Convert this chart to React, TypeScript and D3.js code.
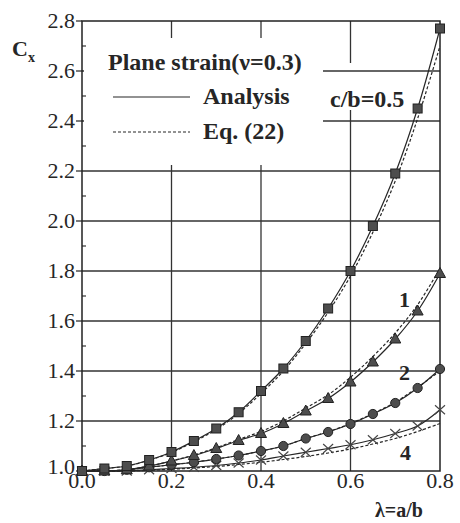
import React from 'react';
import { scaleLinear, line, curveCatmullRom, range } from 'd3';

// lambda = a/b
const lambdas = [0, 0.05, 0.1, 0.15, 0.2, 0.25, 0.3, 0.35, 0.4, 0.45, 0.5, 0.55, 0.6, 0.65, 0.7, 0.75, 0.8];

// analysis (solid) and Eq. (22) (dashed) for each c/b
const cb05 = [1.0, 1.01, 1.02, 1.044, 1.076, 1.12, 1.17, 1.235, 1.32, 1.41, 1.52, 1.65, 1.8, 1.98, 2.19, 2.45, 2.77];
const cb05Eq = [1.0, 1.01, 1.02, 1.043, 1.074, 1.117, 1.166, 1.23, 1.31, 1.4, 1.51, 1.635, 1.78, 1.955, 2.16, 2.41, 2.7];
const cb1 = [1.0, 1.0, 1.005, 1.02, 1.04, 1.062, 1.09, 1.122, 1.15, 1.19, 1.24, 1.29, 1.356, 1.436, 1.528, 1.64, 1.79];
const cb1Eq = [1.0, 1.0, 1.005, 1.02, 1.04, 1.064, 1.093, 1.126, 1.158, 1.2, 1.252, 1.305, 1.375, 1.458, 1.552, 1.665, 1.81];
const cb2 = [1.0, 1.0, 1.005, 1.015, 1.025, 1.035, 1.048, 1.062, 1.08, 1.1, 1.13, 1.156, 1.188, 1.228, 1.272, 1.332, 1.408];
const cb2Eq = [1.0, 1.0, 1.005, 1.015, 1.025, 1.035, 1.048, 1.062, 1.08, 1.1, 1.13, 1.157, 1.19, 1.23, 1.275, 1.335, 1.4];
const cb4 = [1.0, 1.0, 1.0, 1.005, 1.01, 1.015, 1.022, 1.032, 1.044, 1.06, 1.075, 1.09, 1.105, 1.125, 1.15, 1.18, 1.245];
const cb4Eq = [1.0, 1.0, 1.0, 1.003, 1.007, 1.012, 1.018, 1.026, 1.035, 1.046, 1.058, 1.072, 1.088, 1.108, 1.13, 1.158, 1.19];

const xTicks = [0, 0.2, 0.4, 0.6, 0.8];
const yTicks = [1.0, 1.2, 1.4, 1.6, 1.8, 2.0, 2.2, 2.4, 2.6, 2.8];

const serif = 'Liberation Serif, Tinos, DejaVu Serif, serif';
const ink = '#262626';

const txt = (size: number, bold = false): React.CSSProperties => ({
  fontFamily: serif,
  fontSize: size,
  fontWeight: bold ? 'bold' : 'normal',
  fill: ink,
});

export default function App() {
  const x = scaleLinear().domain([0, 0.8]).range([82, 440]);
  const y = scaleLinear().domain([1.0, 2.8]).range([471, 21]);

  const path = (vals: number[]) =>
    line<number>()
      .x((d, i) => x(lambdas[i]))
      .y(d => y(d))
      .curve(curveCatmullRom)(vals) || '';

  const minor = range(1.1, 2.8, 0.2);

  return (
    <div style={{ position: 'absolute', left: 0, top: 0 }}>
      <svg width={460} height={523} style={{ display: 'block', background: '#fff' }}>
        {/* vertical grid */}
        {xTicks.slice(1, 4).map(t => (
          <line key={'vx' + t} x1={x(t)} x2={x(t)} y1={y(2.8)} y2={y(1.0)} stroke="#333" strokeWidth={1.3} />
        ))}
        {/* break in the 0.6 line behind c/b label */}
        <rect x={x(0.6) - 4} y={63} width={8} height={47} fill="#fff" />
        {/* horizontal grid */}
        {yTicks.slice(1, 9).map(t => (
          <line key={'hy' + t} x1={x(0)} x2={x(0.8)} y1={y(t)} y2={y(t)} stroke="#333" strokeWidth={1.3} />
        ))}
        {/* legend backdrop */}
        <rect x={84} y={38} width={239} height={127} fill="#fff" />

        {/* frame */}
        <rect x={x(0)} y={y(2.8)} width={x(0.8) - x(0)} height={y(1.0) - y(2.8)} fill="none" stroke="#222" strokeWidth={1.5} />

        {/* y ticks */}
        {yTicks.map(t => (
          <g key={'yt' + t}>
            <line x1={x(0) - 6} x2={x(0)} y1={y(t)} y2={y(t)} stroke="#222" strokeWidth={1.2} />
            <text x={75} y={y(t) - (t === 1 ? 4 : 0)} dy="0.34em" textAnchor="end" style={txt(22)}>
              {t.toFixed(1)}
            </text>
          </g>
        ))}
        {minor.map(t => (
          <line key={'mt' + t} x1={x(0)} x2={x(0) + 4} y1={y(t)} y2={y(t)} stroke="#222" strokeWidth={1.1} />
        ))}
        {/* x ticks */}
        {xTicks.map(t => (
          <text key={'xt' + t} x={x(t)} y={488} textAnchor="middle" style={txt(22)}>
            {t.toFixed(1)}
          </text>
        ))}

        {/* curves */}
        {[cb4, cb2, cb1, cb05].map((s, i) => (
          <path key={'s' + i} d={path(s)} fill="none" stroke={ink} strokeWidth={1.2} />
        ))}
        {[cb4Eq, cb2Eq, cb1Eq, cb05Eq].map((s, i) => (
          <path key={'e' + i} d={path(s)} fill="none" stroke={ink} strokeWidth={1.2} strokeDasharray="3,2" />
        ))}

        {/* markers */}
        {cb4.map((v, i) => {
          const cx = x(lambdas[i]);
          const cy = y(v);
          return (
            <g key={'x' + i} stroke="#444" strokeWidth={1.1}>
              <line x1={cx - 5} x2={cx + 5} y1={cy - 4.5} y2={cy + 4.5} />
              <line x1={cx - 5} x2={cx + 5} y1={cy + 4.5} y2={cy - 4.5} />
            </g>
          );
        })}
        {cb2.map((v, i) => (
          <circle key={'c' + i} cx={x(lambdas[i])} cy={y(v)} r={4.6} fill="#4d4d4d" stroke="#222" strokeWidth={1} />
        ))}
        {cb1.map((v, i) => {
          const cx = x(lambdas[i]);
          const cy = y(v);
          return (
            <polygon
              key={'t' + i}
              points={`${cx},${cy - 6} ${cx - 5.5},${cy + 4} ${cx + 5.5},${cy + 4}`}
              fill="#4d4d4d"
              stroke="#222"
              strokeWidth={1}
            />
          );
        })}
        {cb05.map((v, i) => (
          <rect key={'q' + i} x={x(lambdas[i]) - 4.5} y={y(v) - 4.5} width={9} height={9} fill="#4d4d4d" stroke="#222" strokeWidth={1} />
        ))}

        {/* legend */}
        <text x={108} y={70} style={txt(24, true)}>Plane strain(ν=0.3)</text>
        <line x1={113} x2={190} y1={97} y2={97} stroke={ink} strokeWidth={1.2} />
        <text x={203} y={104} style={txt(24, true)}>Analysis</text>
        <line x1={113} x2={190} y1={132} y2={132} stroke={ink} strokeWidth={1.2} strokeDasharray="3,2" />
        <text x={203} y={139} style={txt(24, true)}>Eq. (22)</text>

        {/* curve labels */}
        <text x={330} y={107} style={txt(24, true)}>c/b=0.5</text>
        <text x={399} y={307} style={txt(22, true)}>1</text>
        <text x={399} y={380} style={txt(22, true)}>2</text>
        <text x={400} y={460} style={txt(22, true)}>4</text>

        {/* axis titles */}
        <text x={12} y={56} style={txt(22, true)}>C</text>
        <text x={28} y={62} style={txt(14, true)}>x</text>
        <text x={375} y={517} style={txt(20, true)}>λ=a/b</text>
      </svg>
    </div>
  );
}
